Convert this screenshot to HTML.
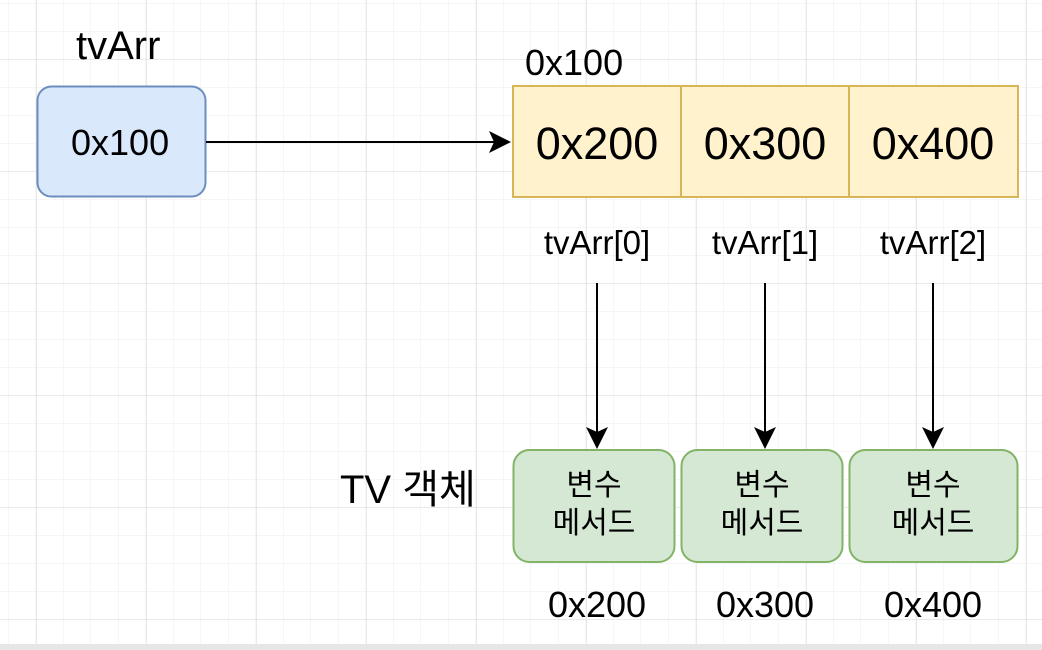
<!DOCTYPE html>
<html><head><style>
body{margin:0;width:1042px;height:650px;overflow:hidden;background:#fff;font-family:"Liberation Sans","Noto Sans CJK KR",sans-serif;}
.t{position:absolute;white-space:nowrap;color:#000;line-height:1;}
</style></head><body>
<svg width="1042" height="650" style="position:absolute;left:0;top:0">
<defs>
<pattern id="mi" width="27.5" height="28" patternUnits="userSpaceOnUse" x="8" y="3">
<path d="M0 0V28M0 0H27.5" stroke="#eeeeee" stroke-width="1" fill="none"/></pattern>
<pattern id="ma" width="110" height="112" patternUnits="userSpaceOnUse" x="36" y="59">
<path d="M0 0V112M0 0H110" stroke="#d6d6d6" stroke-width="1" fill="none"/></pattern>
</defs>
<rect width="1042" height="645" fill="url(#mi)"/>
<rect width="1042" height="645" fill="url(#ma)"/>
<rect y="644" width="1042" height="6" fill="#e6e6e6"/>
<rect x="37.5" y="86.5" width="168" height="110" rx="14" fill="#dae8fc" stroke="#6c8ebf" stroke-width="2"/>
<rect x="513" y="86" width="505" height="111" fill="#fff2cc" stroke="#d6b656" stroke-width="2"/>
<line x1="681" y1="86" x2="681" y2="197" stroke="#d6b656" stroke-width="2"/>
<line x1="849" y1="86" x2="849" y2="197" stroke="#d6b656" stroke-width="2"/>
<line x1="206" y1="142" x2="496" y2="142" stroke="#000" stroke-width="2"/>
<path d="M511 142L489 131L494 142L489 153Z" fill="#000"/>
<g stroke="#000" stroke-width="2">
<line x1="597" y1="283" x2="597" y2="432"/><line x1="765" y1="283" x2="765" y2="432"/><line x1="933" y1="283" x2="933" y2="432"/></g>
<path d="M597 449L586 427L597 432L608 427Z M765 449L754 427L765 432L776 427Z M933 449L922 427L933 432L944 427Z" fill="#000"/>
<g fill="#d5e8d4" stroke="#82b366" stroke-width="2">
<rect x="513.5" y="450" width="161" height="112" rx="16"/>
<rect x="681.5" y="450" width="161" height="112" rx="16"/>
<rect x="849.5" y="450" width="168" height="112" rx="16"/>
</g>
</svg>
<div class="t" style="left:76px;top:26px;font-size:40px">tvArr</div>
<div class="t" style="left:71px;top:125px;font-size:36px">0x100</div>
<div class="t" style="left:525px;top:45px;font-size:36px">0x100</div>
<div class="t" style="left:513px;top:121px;width:168px;text-align:center;font-size:45px">0x200</div>
<div class="t" style="left:681px;top:121px;width:168px;text-align:center;font-size:45px">0x300</div>
<div class="t" style="left:849px;top:121px;width:168px;text-align:center;font-size:45px">0x400</div>
<div class="t" style="left:513px;top:226px;width:168px;text-align:center;font-size:33px">tvArr[0]</div>
<div class="t" style="left:681px;top:226px;width:168px;text-align:center;font-size:33px">tvArr[1]</div>
<div class="t" style="left:849px;top:226px;width:168px;text-align:center;font-size:33px">tvArr[2]</div>
<div class="t" style="left:340px;top:470px;font-size:40px">TV 객체</div>
<div class="t" style="left:513px;top:467px;width:162px;text-align:center;font-size:30px;line-height:38px">변수<br>메서드</div>
<div class="t" style="left:681px;top:467px;width:162px;text-align:center;font-size:30px;line-height:38px">변수<br>메서드</div>
<div class="t" style="left:849px;top:467px;width:168px;text-align:center;font-size:30px;line-height:38px">변수<br>메서드</div>
<div class="t" style="left:513px;top:587px;width:168px;text-align:center;font-size:36px">0x200</div>
<div class="t" style="left:681px;top:587px;width:168px;text-align:center;font-size:36px">0x300</div>
<div class="t" style="left:849px;top:587px;width:168px;text-align:center;font-size:36px">0x400</div>
</body></html>
